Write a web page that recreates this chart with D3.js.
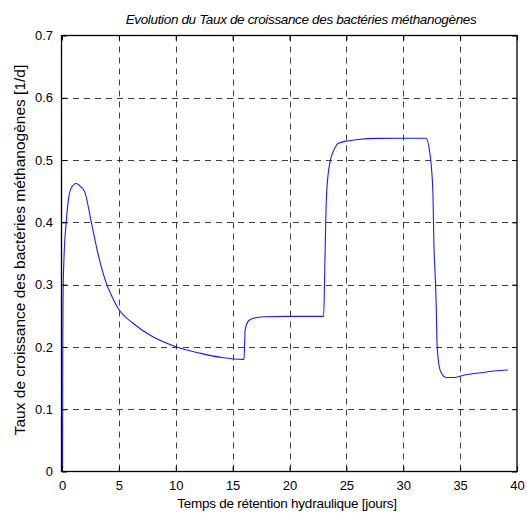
<!DOCTYPE html>
<html><head><meta charset="utf-8">
<script src="https://cdn.jsdelivr.net/npm/d3@7"></script>
<style>body{margin:0;background:#fff}svg{display:block}text{font-family:"Liberation Sans",Arial,sans-serif}</style>
</head><body><svg id="c" width="527" height="513"></svg>
<script>
const title = "Evolution du Taux de croissance des bactéries méthanogènes";
const xLabel = "Temps de rétention hydraulique [jours]";
const yLabel = "Taux de croissance des bactéries méthanogènes [1/d]";
const xTicks = [0,5,10,15,20,25,30,35,40];
const yTicks = [0,0.1,0.2,0.3,0.4,0.5,0.6,0.7];
const timeDays = [0.05,0.06,0.07,0.1,0.17,0.37,0.52,0.81,1.25,1.6,2.0,2.58,3.16,3.9,4.34,4.93,6.25,7.72,10.0,12.1,14.05,15.9,16.0,16.1,16.4,16.85,17.7,20,23.0,23.1,23.2,23.3,23.6,23.9,24.3,25.2,26.0,27.7,30,32.0,32.3,32.6,32.7,32.8,32.9,32.96,33.08,33.3,33.76,34.5,35.4,36.8,38.0,39.2];
const growthRate = [0,0.1,0.208,0.29,0.34,0.40,0.43,0.455,0.4625,0.458,0.449,0.40,0.35,0.302,0.283,0.262,0.238,0.219,0.2003,0.19,0.183,0.180,0.180,0.227,0.242,0.246,0.2485,0.249,0.249,0.323,0.414,0.457,0.50,0.516,0.527,0.531,0.533,0.5348,0.535,0.535,0.516,0.452,0.361,0.318,0.265,0.211,0.179,0.160,0.151,0.151,0.155,0.1586,0.1613,0.163];

const svg = d3.select("#c");
const L = 62, R = 517, T = 35.5, B = 471.5;
const x = d3.scaleLinear().domain([0,40]).range([L,R]);
const y = d3.scaleLinear().domain([0,0.7]).range([B,T]);

// grid
const g = svg.append("g");
g.selectAll(".gx").data(xTicks.slice(1,-1)).enter().append("line")
  .attr("x1",d=>Math.round(x(d))+0.5).attr("x2",d=>Math.round(x(d))+0.5).attr("y1",T).attr("y2",B)
  .attr("stroke","#000").attr("stroke-width",1).attr("stroke-dasharray","6,5").attr("stroke-opacity",0.75);
g.selectAll(".gy").data(yTicks.slice(1,-1)).enter().append("line")
  .attr("y1",d=>Math.round(y(d))+0.5).attr("y2",d=>Math.round(y(d))+0.5).attr("x1",L).attr("x2",R)
  .attr("stroke","#000").attr("stroke-width",1).attr("stroke-dasharray","6,5").attr("stroke-opacity",0.75);

// curve
const line = d3.line().x((d,i)=>x(timeDays[i])).y(d=>y(d)).curve(d3.curveMonotoneX);
svg.append("path").datum(growthRate).attr("d",line).attr("fill","none").attr("stroke","#1a1aff").attr("stroke-width",1.1);

// axes
const ax = d3.axisBottom(x).tickValues(xTicks).tickSize(-5).tickPadding(9).tickFormat(d3.format("d"));
const ay = d3.axisLeft(y).tickValues(yTicks).tickSize(-5).tickPadding(9).tickFormat(d=>d===0?"0":d3.format(".1f")(d));
const gx = svg.append("g").attr("transform",`translate(0,${B})`).call(ax);
const gy = svg.append("g").attr("transform",`translate(${L},0)`).call(ay);
const gx2 = svg.append("g").attr("transform",`translate(0,${T})`).call(d3.axisTop(x).tickValues(xTicks).tickSize(-5).tickFormat(""));
const gy2 = svg.append("g").attr("transform",`translate(${R},0)`).call(d3.axisRight(y).tickValues(yTicks).tickSize(-5).tickFormat(""));
[gx,gy,gx2,gy2].forEach(a=>{a.select(".domain").remove();a.selectAll("line").attr("stroke","#000");a.selectAll("text").attr("font-size",13).attr("fill","#000").attr("font-family","Liberation Sans, Arial, sans-serif");});
svg.append("rect").attr("x",L-0.5).attr("y",T).attr("width",R-L+0.5).attr("height",B-T).attr("fill","none").attr("stroke","#000").attr("stroke-width",1.3);

svg.append("text").attr("x",301).attr("y",24).attr("text-anchor","middle").attr("font-size",13.5).attr("font-style","italic").attr("letter-spacing",-0.35).text(title);
svg.append("text").attr("x",287).attr("y",508).attr("text-anchor","middle").attr("font-size",13.5).attr("letter-spacing",-0.25).text(xLabel);
svg.append("text").attr("transform","translate(25,250) rotate(-90)").attr("text-anchor","middle").attr("font-size",15.5).text(yLabel);
</script></body></html>
